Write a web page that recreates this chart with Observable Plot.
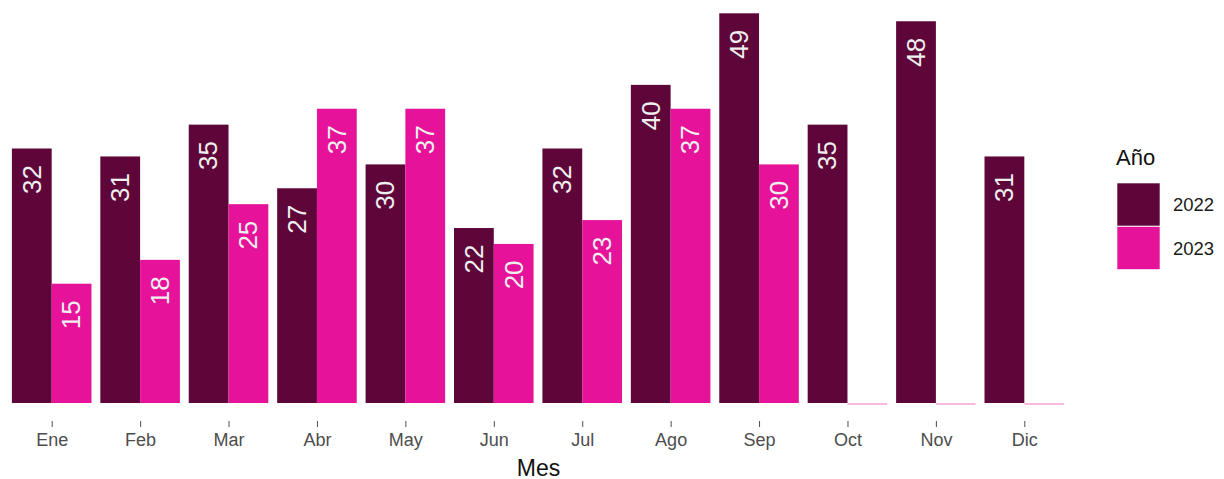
<!DOCTYPE html>
<html>
<head>
<meta charset="utf-8">
<script src="https://cdn.jsdelivr.net/npm/d3@7"></script>
<script src="https://cdn.jsdelivr.net/npm/@observablehq/plot@0.6"></script>
<style>
  html, body { margin: 0; padding: 0; background: white; }
  #wrap { position: relative; width: 1224px; height: 479px; }
  #legend { position: absolute; left: 0; top: 0; pointer-events: none; }
</style>
</head>
<body>
<div id="wrap"></div>
<script>
const meses = ["Ene", "Feb", "Mar", "Abr", "May", "Jun", "Jul", "Ago", "Sep", "Oct", "Nov", "Dic"];
const anios = ["2022", "2023"];
const valores2022 = [32, 31, 35, 27, 30, 22, 32, 40, 49, 35, 48, 31];
const valores2023 = [15, 18, 25, 37, 37, 20, 23, 37, 30, 0, 0, 0];
const colores = ["#5E0639", "#E6139A"];

const data = meses.flatMap((m, i) => [
  {mes: m, anio: "2022", n: valores2022[i]},
  {mes: m, anio: "2023", n: valores2023[i]}
]);

const font = "'Liberation Sans', Arial, sans-serif";

const chart = Plot.plot({
  width: 1224,
  height: 479,
  marginLeft: 0,
  marginRight: 148,
  marginTop: 0,
  marginBottom: 58,
  style: {fontFamily: font, background: "white", overflow: "visible"},
  fx: {domain: meses, paddingInner: 0.1, paddingOuter: 0.1346, round: false},
  x: {domain: anios, padding: 0, axis: null, round: false},
  y: {domain: [0, 49], range: [403, 13.3], axis: null},
  color: {domain: anios, range: colores},
  marks: [
    Plot.tickY(data.filter(d => d.n === 0), {fx: "mes", x: "anio", y: "n", stroke: "anio", strokeOpacity: 0.4, strokeWidth: 1.5, dy: 0.5}),
    Plot.barY(data, {fx: "mes", x: "anio", y: "n", fill: "anio"}),
    Plot.text(data.filter(d => d.n > 0), {
      fx: "mes", x: "anio", y: "n", text: d => String(d.n),
      rotate: -90, textAnchor: "end", lineAnchor: "middle", dy: 16,
      fill: "#efefef", fontSize: 26
    }),
    Plot.axisFx({anchor: "bottom", tickSize: 6, tickPadding: 6, fontSize: 18, color: "#4d4d4d", label: null}),
    Plot.axisFx({anchor: "bottom", tickSize: 0, tickFormat: () => "", fontSize: 23, color: "#111", label: "Mes", labelAnchor: "center", labelOffset: 54})
  ]
});

const wrap = document.getElementById("wrap");
wrap.appendChild(chart);

// Legend
const svg = d3.select(wrap).append("svg")
  .attr("id", "legend").attr("width", 1224).attr("height", 479)
  .style("font-family", font);
svg.append("text").attr("x", 1116).attr("y", 165).attr("font-size", 22).attr("fill", "#111").text("Año");
anios.forEach((a, i) => {
  svg.append("rect").attr("x", 1117).attr("y", 183 + i * 43.5).attr("width", 43).attr("height", 43)
    .attr("fill", colores[i]).attr("stroke", "white").attr("stroke-width", 0.6);
  svg.append("text").attr("x", 1173).attr("y", 211 + i * 43.5).attr("font-size", 18.5).attr("fill", "#1a1a1a").text(a);
});
</script>
</body>
</html>
